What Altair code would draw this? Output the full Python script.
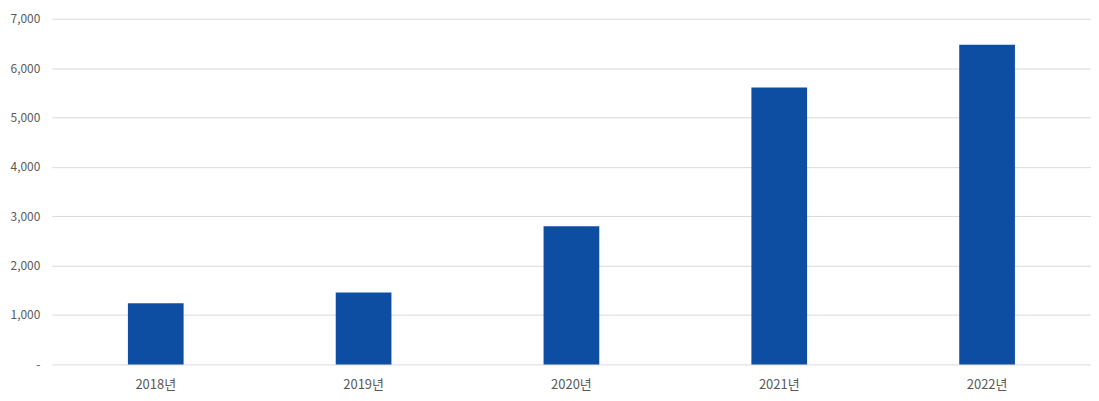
import altair as alt
import pandas as pd

years = ["2018년", "2019년", "2020년", "2021년", "2022년"]
values = [1240, 1455, 2795, 5605, 6470]

df = pd.DataFrame({"year": years, "value": values})

FONT = "Noto Sans CJK KR"

chart = alt.Chart(df).mark_bar(color="#0d4ea2").encode(
    x=alt.X("year:N", sort=years, title=None,
            scale=alt.Scale(paddingInner=0.732, paddingOuter=0.366),
            axis=alt.Axis(labelAngle=0, domain=False, ticks=False, labelPadding=14,
                          labelFont=FONT, labelFontSize=13, labelColor="#595959")),
    y=alt.Y("value:Q", title=None,
            scale=alt.Scale(domain=[0, 7000], nice=False),
            axis=alt.Axis(values=[0, 1000, 2000, 3000, 4000, 5000, 6000, 7000],
                          labelExpr="datum.value == 0 ? '-' : format(datum.value, ',')",
                          domain=False, ticks=False, labelPadding=12,
                          gridColor="#d9d9d9", gridWidth=1,
                          labelFont=FONT, labelFontSize=12, labelColor="#595959")),
).properties(
    width=1043, height=347,
    autosize=alt.AutoSizeParams(type="none"),
    padding={"left": 44, "top": 10, "right": 0, "bottom": 30},
).configure_view(stroke=None)

chart.save("out.html", embed_options={"renderer": "svg", "actions": False})
